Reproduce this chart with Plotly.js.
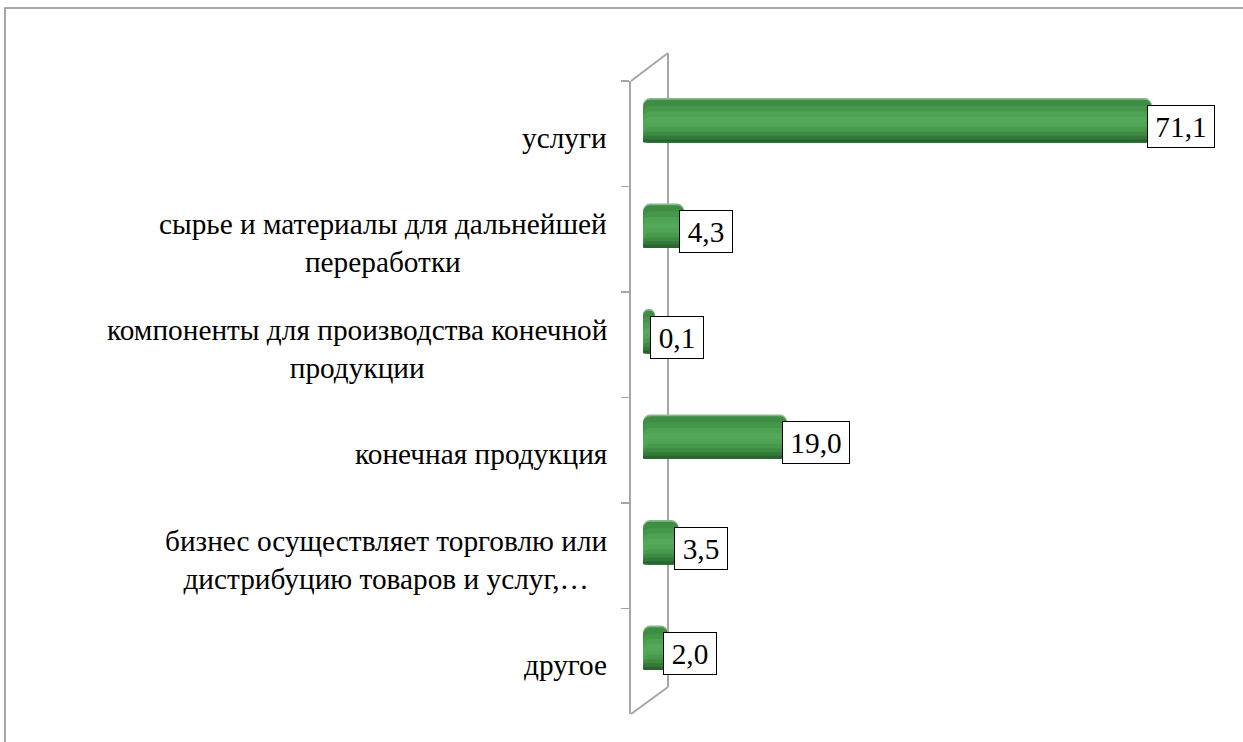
<!DOCTYPE html>
<html><head><meta charset="utf-8">
<script src="https://cdn.plot.ly/plotly-3.0.1.min.js"></script>
<style>body{margin:0;background:#fff}#chart{width:1243px;height:742px}</style>
</head><body><div id="chart"></div>
<script>
// ---- data ----
const categories = ['услуги', 'сырье', 'компоненты', 'конечная', 'бизнес', 'другое'];
const tickLabels = [
  'услуги',
  'сырье и материалы для дальнейшей<br>переработки',
  'компоненты для производства конечной<br>продукции',
  'конечная продукция',
  'бизнес осуществляет торговлю или<br>дистрибуцию товаров и услуг,…',
  'другое'
];
const values = [71.1, 4.3, 0.1, 19.0, 3.5, 2.0];
const valueLabels = ['71,1', '4,3', '0,1', '19,0', '3,5', '2,0'];

// ---- styling ----
const FONT = 'Liberation Serif';
const FS = 29.3;
const W = 0.42;            // bar thickness in category units
const CAP = 11 / 7;        // visual depth of the cylinder's back end (axis units)
const stops = [
  [0.00, '#86b987'], [0.04, '#3f8d45'], [0.18, '#459849'], [0.30, '#4ea353'],
  [0.42, '#54a859'], [0.55, '#50a455'], [0.66, '#47994c'], [0.76, '#3d8a42'],
  [0.85, '#337a38'], [0.93, '#2a652f']
];
const shift = 13.5 / 105.5;

const traces = [{
  type: 'scatter', mode: 'markers', x: categories.map(() => null), y: categories,
  xaxis: 'x', yaxis: 'y', marker: {opacity: 0}, hoverinfo: 'skip', showlegend: false
}];
stops.forEach(([f, c], i) => {
  traces.push({
    type: 'bar', orientation: 'h', y: categories, base: -CAP, x: values.map(v => v + CAP),
    xaxis: 'x', yaxis: 'y2',
    width: W * (1 - f), offset: -W / 2 + f * W,
    marker: {color: c, line: {width: 0}, cornerradius: 7},
    hoverinfo: 'skip', showlegend: false
  });
});

const ctx = document.createElement('canvas').getContext('2d');
ctx.font = FS + 'px "Liberation Serif"';

const annotations = [];
tickLabels.forEach((t, i) => {
  annotations.push({
    xref: 'paper', yref: 'y', x: -0.0367, y: categories[i], xanchor: 'right', yanchor: 'middle',
    align: 'center', text: t, showarrow: false, yshift: -4,
    font: {family: FONT, size: FS, color: '#000'}
  });
});
valueLabels.forEach((t, i) => {
  annotations.push({
    xref: 'x', yref: 'y2', x: values[i], y: categories[i], xanchor: 'left', yanchor: 'middle',
    text: t, showarrow: false, xshift: -5, yshift: -6,
    bgcolor: '#fff', bordercolor: '#000', borderwidth: 1, borderpad: 1,
    width: Math.round(ctx.measureText(t).width + 13), height: 39,
    font: {family: FONT, size: FS, color: '#000'}
  });
});

const bx = 37 / 599;
const wall = {color: '#a6a6a6', width: 2};
const shapes = [
  {type: 'line', xref: 'paper', yref: 'paper', x0: 0, y0: 1, x1: bx, y1: 1 + 28 / 633, line: wall, layer: 'below'},
  {type: 'line', xref: 'paper', yref: 'paper', x0: 0, y0: 0, x1: bx, y1: 27 / 633, line: wall, layer: 'below'},
  {type: 'line', xref: 'paper', yref: 'paper', x0: bx, y0: 27 / 633, x1: bx, y1: 1 + 28 / 633, line: wall, layer: 'below'},
  {type: 'rect', xref: 'paper', yref: 'paper', x0: (5 - 631) / 599, y0: (714 - 770) / 633,
   x1: (1270 - 631) / 599, y1: 1 + (81 - 8) / 633, line: {color: '#8a8a8a', width: 1.5}, layer: 'below'}
];

const layout = {
  width: 1243, height: 742,
  font: {family: FONT},
  margin: {l: 631, r: 13, t: 81, b: 28, pad: 0},
  paper_bgcolor: 'rgba(0,0,0,0)', plot_bgcolor: 'rgba(0,0,0,0)',
  barmode: 'overlay', showlegend: false,
  xaxis: {range: [-23 / 7, 576 / 7], visible: false, fixedrange: true},
  yaxis: {
    type: 'category', categoryorder: 'array', categoryarray: categories,
    range: [5.5, -0.5], showline: true, linecolor: '#a6a6a6', linewidth: 2,
    ticks: 'outside', tickson: 'boundaries', ticklen: 8, tickcolor: '#a6a6a6', tickwidth: 1.5,
    showticklabels: false, showgrid: false, zeroline: false, fixedrange: true
  },
  yaxis2: {
    type: 'category', categoryorder: 'array', categoryarray: categories, overlaying: 'y',
    range: [5.5 + shift, -0.5 + shift], visible: false, fixedrange: true
  },
  annotations: annotations,
  shapes: shapes
};

Plotly.newPlot('chart', traces, layout, {displayModeBar: false, staticPlot: true});
</script>
</body></html>
